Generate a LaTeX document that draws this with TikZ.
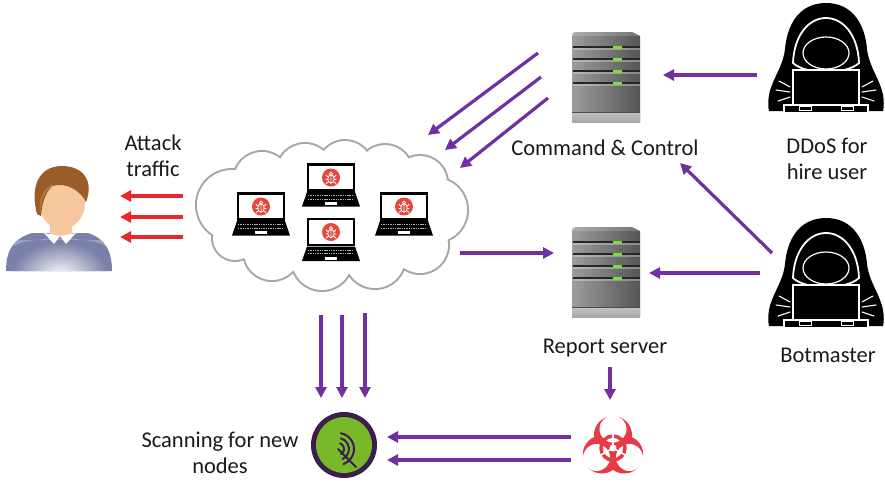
\documentclass[tikz,border=0pt]{standalone}
\usepackage{fontspec}
\setmainfont{Carlito}
\usetikzlibrary{arrows.meta}

\definecolor{flowpurple}{HTML}{7030A0}
\definecolor{flowred}{HTML}{E8292B}
\definecolor{txt}{HTML}{1A1A1A}
\definecolor{cloudgray}{HTML}{A6A6A6}
\definecolor{srvlight}{HTML}{9C9C9C}
\definecolor{srvdark}{HTML}{555555}
\definecolor{ledgreen}{HTML}{7FDB3F}
\definecolor{bugred}{HTML}{E5473A}
\definecolor{scangreen}{HTML}{79B82A}
\definecolor{scanring}{HTML}{3A1E4E}
\definecolor{biored}{HTML}{E63A44}
\definecolor{skin}{HTML}{F6C79C}
\definecolor{hair}{HTML}{9A5C28}
\definecolor{hairlight}{HTML}{C07F3E}
\definecolor{shirt}{HTML}{7A80A8}

\tikzset{
  lbl/.style={inner sep=0pt, text=txt, align=center,
    font=\fontsize{22.5}{26}\selectfont},
  parrow/.style={draw=flowpurple, line width=3.2pt,
    -{Triangle[length=11pt,width=11pt]}},
  rarrow/.style={draw=flowred, line width=3.2pt,
    -{Triangle[length=11pt,width=11pt]}},
  % tower server, origin at top-left corner
  server/.pic={
    \shade[left color=srvlight, right color=srvdark]
      (0,4) .. controls (0,1) and (1,0) .. (4,0) -- (60,0) -- (68,4)
      -- (68,90) -- (0,90) -- cycle;
    \fill[white, opacity=.18] (4,0) -- (60,0) -- (68,4) -- (0,4)
      .. controls (0,1) and (1,0) .. (4,0) -- cycle;
    \foreach \yy in {15,27,39,51} {
      \fill[black!85] (1,\yy-1) rectangle (68,\yy+1);
      \fill[white, opacity=.3] (1,\yy+1) rectangle (68,\yy+2.5);
      \fill[ledgreen] (41,\yy-1.5) rectangle (50,\yy+1.5);
    }
    \fill[black!70] (0,80) rectangle (68,81.5);
    \shade[top color=gray!50, bottom color=gray!70] (0,81.5) rectangle (68,90);
  },
  % hooded figure at a laptop, origin at the top of the hood
  hacker/.pic={
    \fill[black] (0,0) .. controls (-27,0) and (-39,22) .. (-41,46)
      .. controls (-43,64) and (-54,76) .. (-57,92)
      .. controls (-58,98) and (-58,104) .. (-57,108) -- (57,108)
      .. controls (58,104) and (58,98) .. (57,92)
      .. controls (54,76) and (43,64) .. (41,46)
      .. controls (39,22) and (27,0) .. (0,0) -- cycle;
    \draw[white, line width=1.8pt, fill=black]
      (-33,60) .. controls (-32,32) and (-17,15) .. (0,15)
      .. controls (17,15) and (32,32) .. (33,60)
      .. controls (20,72) and (-20,72) .. (-33,60) -- cycle;
    \draw[white, line width=1.2pt, fill=black] (0,50) ellipse (23 and 16);
    \draw[white, line width=1.3pt, fill=black] (-33,67) rectangle (33,102);
    \draw[white, line width=1.3pt, fill=black] (-42,102) rectangle (42,110);
    \draw[white, line width=1pt] (-27,103.5) rectangle (-15,107)
      (15,103.5) rectangle (27,107);
    \foreach \s in {-1,1} {
      \draw[white, line width=1.1pt, line cap=round]
        (\s*36,84) -- (\s*47,78)
        (\s*36,89) -- (\s*50,87)
        (\s*36,94) -- (\s*48,98);
    }
  },
  % infected laptop, origin at the centre of the screen
  botlaptop/.pic={
    \draw[black, line width=2.4pt, fill=white] (-23,-13) rectangle (23,13);
    \fill[black] (-24,14.5) -- (24,14.5) -- (29,29) -- (-29,29) -- cycle;
    \foreach \yy in {18,21.5} {
      \draw[gray!60, line width=.7pt, dash pattern=on 1.4pt off .9pt]
        (-23,\yy) -- (23,\yy);
    }
    \fill[white] (-6,24.5) rectangle (6,27.5);
    \fill[bugred] (0,0) circle[radius=9];
    \draw[white, line width=.8pt] (0,1.5) ellipse (3.2 and 4.2)
      (0,-3.8) circle[radius=1.6]
      (-3.2,-0.5) -- (-5.2,-2.5) (3.2,-0.5) -- (5.2,-2.5)
      (-3.2,2) -- (-5.4,2) (3.2,2) -- (5.4,2)
      (-3,4.3) -- (-5,6.3) (3,4.3) -- (5,6.3)
      (0,-2.7) -- (0,5.7);
  }
}

\begin{document}
\begin{tikzpicture}[x=1pt, y=-1pt]
\fill[white] (0,0) rectangle (885,483);
\useasboundingbox (0,0) rectangle (885,483);

% ---------- victim ----------
\begin{scope}
  \path[fill=shirt] (6,271) .. controls (6,252) and (12,239) .. (32,233)
    -- (88,233) .. controls (106,239) and (112,252) .. (112,271) -- cycle;
  \begin{scope}
    \clip (6,271) .. controls (6,252) and (12,239) .. (32,233)
      -- (88,233) .. controls (106,239) and (112,252) .. (112,271) -- cycle;
    \shade[inner color=white, outer color=shirt] (60,276) ellipse (48 and 34);
    \fill[white, opacity=.25] (14,246) .. controls (30,236) and (90,236) .. (106,246)
      -- (106,240) -- (14,240) -- cycle;
  \end{scope}
  \fill[skin] (50,218) rectangle (72,236);
  \fill[white] (44,233) -- (60,236) -- (54,244) -- cycle;
  \fill[white] (76,233) -- (60,236) -- (66,244) -- cycle;
  \fill[skin] (62,203) ellipse (23 and 26);
  \fill[hair] (37,214) .. controls (30,188) and (38,166) .. (62,166)
    .. controls (84,166) and (94,182) .. (86,202)
    .. controls (80,190) and (66,182) .. (52,186)
    .. controls (45,194) and (42,203) .. (41,216) -- cycle;
  \fill[hairlight, opacity=.7] (52,186) .. controls (44,192) and (41,202) .. (40,214)
    .. controls (38,200) and (42,190) .. (52,184) -- cycle;
\end{scope}
\node[inner sep=0pt, minimum width=106pt, minimum height=105pt] (victim) at (59,218) {};

% ---------- bot cloud ----------
\newcommand\cloudbumps{%
  (232,205) circle[radius=35]
  (262,180) circle[radius=28]
  (305,172) circle[radius=28]
  (345,168) circle[radius=27]
  (385,172) circle[radius=27]
  (420,183) circle[radius=27]
  (435,210) circle[radius=32]
  (420,245) circle[radius=28]
  (375,258) circle[radius=30]
  (322,260) circle[radius=30]
  (272,252) circle[radius=28]
  (235,238) circle[radius=22]}
\draw[cloudgray, line width=4pt] \cloudbumps;
\fill[white] \cloudbumps;
\fill[white] (330,215) ellipse (100 and 50);
\node[inner sep=0pt, minimum width=270pt, minimum height=150pt] (cloud) at (332,215) {};

\pic at (261,206.5) {botlaptop};
\pic at (331,177.5) {botlaptop};
\pic at (331,232) {botlaptop};
\pic at (404,206.5) {botlaptop};

% ---------- servers ----------
\pic at (572,32) {server};
\node[inner sep=0pt, minimum width=68pt, minimum height=90pt] (cc) at (606,77) {};
\node[lbl] (cclbl) at (605,148) {Command \& Control};

\pic at (572,227) {server};
\node[inner sep=0pt, minimum width=68pt, minimum height=90pt] (report) at (606,272) {};
\node[lbl] (replbl) at (605,348) {Report server};

% ---------- attackers ----------
\pic at (826,3) {hacker};
\node[inner sep=0pt, minimum width=114pt, minimum height=110pt] (ddos) at (826,58) {};
\node[lbl] (ddoslbl) at (827,159) {DDoS for\\hire user};

\pic at (826,218) {hacker};
\node[inner sep=0pt, minimum width=114pt, minimum height=110pt] (botmaster) at (826,273) {};
\node[lbl] (botlbl) at (828,355) {Botmaster};

% ---------- scanning ----------
\fill[scanring] (344,445) circle[radius=33];
\fill[scangreen] (344,445) circle[radius=28];
\begin{scope}[scanring, line width=2pt, line cap=round]
  \draw (338,449) ++(-70:6) arc[start angle=-70, end angle=60, radius=6];
  \draw (338,449) ++(-75:11) arc[start angle=-75, end angle=65, radius=11];
  \draw (338,449) ++(-80:16) arc[start angle=-80, end angle=70, radius=16];
  \draw (338,449) -- (356,467);
\end{scope}
\node[inner sep=0pt, minimum size=66pt, circle] (scan) at (344,445) {};
\node[lbl] (scanlbl) at (220,453) {Scanning for new\\nodes};

% ---------- biohazard ----------
\begin{scope}[shift={(613,448)}]
  \foreach \a in {-90,30,150} \fill[biored] (\a:13) circle[radius=19];
  \foreach \a in {-90,30,150} \fill[white] (\a:19) circle[radius=13.5];
  \draw[biored, line width=3.5pt] (0,0) circle[radius=12];
  \foreach \a in {-90,30,150} \draw[white, line width=1.6pt] (0,0) -- (\a:17);
  \fill[white] (0,0) circle[radius=3.5];
\end{scope}
\node[inner sep=0pt, minimum size=62pt] (bio) at (613,445) {};

% ---------- connectors ----------
\node[lbl] (attacklbl) at (153,156) {Attack\\traffic};
\coordinate (r1s) at (183,196); \coordinate (r1e) at (120,196);
\coordinate (r2s) at (183,217); \coordinate (r2e) at (120,217);
\coordinate (r3s) at (183,237); \coordinate (r3e) at (120,237);
\draw[rarrow] (r1s) -- (r1e);
\draw[rarrow] (r2s) -- (r2e);
\draw[rarrow] (r3s) -- (r3e);

\coordinate (c1s) at (538,53);  \coordinate (c1e) at (428,135);
\coordinate (c2s) at (541,77);  \coordinate (c2e) at (445,150);
\coordinate (c3s) at (548,98);  \coordinate (c3e) at (460,168);
\draw[parrow] (c1s) -- (c1e);
\draw[parrow] (c2s) -- (c2e);
\draw[parrow] (c3s) -- (c3e);

\coordinate (d1s) at (757,75); \coordinate (d1e) at (663,75);
\draw[parrow] (d1s) -- (d1e);

\coordinate (b1s) at (772,253); \coordinate (b1e) at (680,163);
\draw[parrow] (b1s) -- (b1e);
\coordinate (b2s) at (760,273); \coordinate (b2e) at (649,273);
\draw[parrow] (b2s) -- (b2e);

\coordinate (k1s) at (460,253); \coordinate (k1e) at (554,253);
\draw[parrow] (k1s) -- (k1e);

\coordinate (v1s) at (321,315); \coordinate (v1e) at (321,398);
\coordinate (v2s) at (342,315); \coordinate (v2e) at (342,398);
\coordinate (v3s) at (365,313); \coordinate (v3e) at (365,398);
\draw[parrow] (v1s) -- (v1e);
\draw[parrow] (v2s) -- (v2e);
\draw[parrow] (v3s) -- (v3e);

\coordinate (p1s) at (610,367); \coordinate (p1e) at (610,400);
\draw[parrow] (p1s) -- (p1e);

\coordinate (s1s) at (571,437); \coordinate (s1e) at (387,437);
\coordinate (s2s) at (571,460); \coordinate (s2e) at (387,460);
\draw[parrow] (s1s) -- (s1e);
\draw[parrow] (s2s) -- (s2e);
\end{tikzpicture}
\end{document}
